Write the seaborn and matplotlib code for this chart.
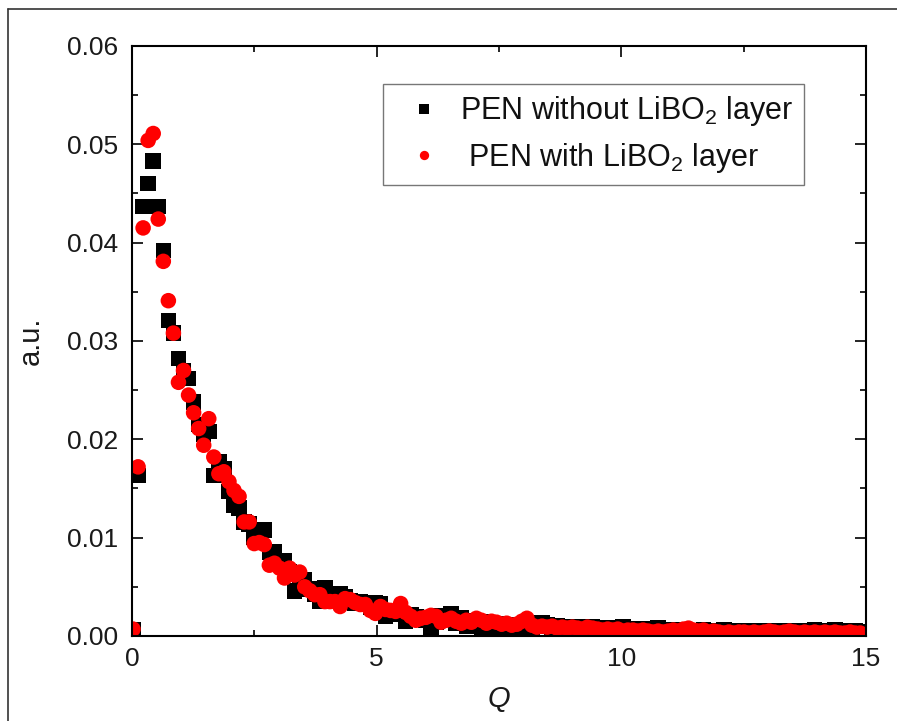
import matplotlib
matplotlib.use("Agg")
import matplotlib.pyplot as plt
import numpy as np
import seaborn as sb
import pandas as pd
from matplotlib.lines import Line2D

# valori (x 1e-3), pe grila uniforma de Q
pen_fara = [0.6, 16.3, 43.7, 46.0, 48.3, 43.7, 39.2, 32.1, 30.8, 28.2,
            27.0, 26.2, 23.8, 21.5, 20.5, 20.8, 16.3, 17.7, 17.0, 14.7,
            13.3, 13.0, 11.6, 11.4, 10.0, 9.5, 10.8, 8.5, 8.6, 7.7,
            7.7, 6.5, 4.6, 5.5, 5.7, 4.8, 4.2, 3.5, 4.9, 4.0,
            3.8, 4.3, 4.0, 3.6, 3.3, 3.5, 3.2, 2.9, 3.4, 3.3,
            2.0, 2.4, 2.2, 2.3, 1.5, 2.2, 2.0, 1.8, 1.6, 0.9,
            1.4, 2.1, 1.8, 2.3, 1.3, 1.9, 1.0, 1.5, 1.2, 0.8,
            1.4, 1.1, 0.9, 1.2, 1.0, 0.9, 1.1, 0.8, 1.0, 0.9,
            1.0, 1.3, 1.1, 0.9, 1.0, 0.8, 0.9, 0.8, 0.9, 0.8,
            0.7, 0.9, 0.8, 0.7, 0.8, 0.6, 0.7, 0.9, 0.7, 0.6,
            0.7, 0.6, 0.5, 0.7, 0.8, 0.6, 0.5, 0.6, 0.5, 0.6,
            0.5, 0.4, 0.5, 0.6, 0.5, 0.4, 0.5, 0.6, 0.5, 0.4,
            0.5, 0.4, 0.5, 0.4, 0.5, 0.4, 0.5, 0.4, 0.5, 0.4,
            0.5, 0.4, 0.5, 0.4, 0.5, 0.6, 0.5, 0.4, 0.5, 0.6,
            0.5, 0.4, 0.5, 0.5, 0.4]

pen_cu = [0.7, 17.2, 41.5, 50.4, 51.1, 42.4, 38.1, 34.1, 30.8, 25.8,
          27.0, 24.5, 22.7, 21.1, 19.4, 22.1, 18.2, 16.5, 16.7, 15.7,
          14.8, 14.2, 11.6, 11.6, 9.4, 9.5, 9.3, 7.2, 7.4, 6.9,
          5.9, 6.9, 6.2, 6.5, 5.0, 4.6, 4.2, 4.2, 3.5, 3.5,
          3.5, 3.0, 3.8, 3.7, 3.4, 3.2, 3.2, 2.6, 2.3, 3.0,
          2.7, 2.6, 2.5, 3.3, 2.4, 2.0, 1.6, 1.8, 1.9, 2.1,
          2.0, 1.4, 1.6, 1.8, 1.5, 1.3, 1.6, 1.4, 1.8, 1.6,
          1.3, 1.5, 1.4, 1.2, 1.3, 1.1, 1.2, 1.5, 1.8, 1.1,
          0.9, 1.0, 0.9, 1.0, 0.8, 0.9, 0.8, 0.9, 0.8, 0.7,
          0.9, 0.8, 0.7, 0.6, 0.7, 0.6, 0.7, 0.5, 0.6, 0.6,
          0.5, 0.6, 0.5, 0.4, 0.5, 0.4, 0.5, 0.6, 0.5, 0.7,
          0.8, 0.6, 0.5, 0.6, 0.4, 0.5, 0.4, 0.3, 0.4, 0.3,
          0.4, 0.4, 0.3, 0.4, 0.3, 0.4, 0.5, 0.4, 0.3, 0.4,
          0.5, 0.4, 0.3, 0.4, 0.3, 0.4, 0.3, 0.4, 0.3, 0.4,
          0.3, 0.3, 0.4, 0.3, 0.3]

eticheta_fara = "PEN without LiBO$_2$ layer"
eticheta_cu = " PEN with LiBO$_2$ layer"

sb.set_style("ticks")
plt.rcParams["font.family"] = ["Liberation Sans", "DejaVu Sans"]
plt.rcParams["mathtext.default"] = "regular"

q1 = np.linspace(0.02, 14.88, len(pen_fara))
q2 = np.linspace(0.02, 14.88, len(pen_cu))
t = pd.concat([
    pd.DataFrame({"Q": q1, "v": np.array(pen_fara) / 1000, "proba": eticheta_fara}),
    pd.DataFrame({"Q": q2, "v": np.array(pen_cu) / 1000, "proba": eticheta_cu}),
], ignore_index=True)

fig = plt.figure(figsize=(8.97, 7.21), dpi=100)
ax = fig.add_axes([0.1472, 0.1179, 0.8183, 0.8183])
sb.scatterplot(data=t, x="Q", y="v", hue="proba", style="proba",
               palette={eticheta_fara: "black", eticheta_cu: "#ff0000"},
               markers={eticheta_fara: "s", eticheta_cu: "o"},
               s=125, linewidth=0, ax=ax, clip_on=True)

ax.set_xlim(0, 15)
ax.set_ylim(0, 0.06)
ax.set_xticks([0, 5, 10, 15])
ax.set_xticks([2.5, 7.5, 12.5], minor=True)
ax.set_yticks([0, 0.01, 0.02, 0.03, 0.04, 0.05, 0.06])
ax.set_yticks(np.arange(0.005, 0.06, 0.01), minor=True)
ax.set_yticklabels(["0.00", "0.01", "0.02", "0.03", "0.04", "0.05", "0.06"])
ax.tick_params(which="both", direction="in", top=True, right=True,
               width=1.2, labelsize=19, color="black", labelcolor="#1a1a1a")
ax.tick_params(which="major", length=8, pad=10)
ax.tick_params(which="minor", length=4.5)
ax.tick_params(axis="x", pad=8)
for sp in ax.spines.values():
    sp.set_linewidth(1.5)
    sp.set_color("black")

ax.set_xlabel("Q", fontsize=21, fontstyle="italic", color="#1a1a1a", labelpad=10)
ax.set_ylabel("a.u.", fontsize=21, color="#1a1a1a", labelpad=16)

leg = ax.legend(loc="upper right", bbox_to_anchor=(0.916, 0.936), fontsize=22,
                frameon=True, fancybox=False, markerscale=0.6,
                handletextpad=0.2, borderpad=0.35, borderaxespad=0,
                labelspacing=0.4, handlelength=2.0)
leg.get_frame().set_edgecolor("#555555")
leg.get_frame().set_linewidth(1.0)
for txt in leg.get_texts():
    txt.set_color("#111111")

# rama exterioara a imaginii
fig.add_artist(Line2D([8 / 897, 8 / 897], [0, 1 - 9 / 721], color="#333333", lw=1.2))
fig.add_artist(Line2D([8 / 897, 1], [1 - 9 / 721, 1 - 9 / 721], color="#333333", lw=1.2))

fig.savefig("out.png", dpi=100)
